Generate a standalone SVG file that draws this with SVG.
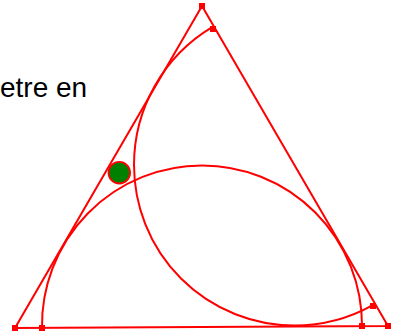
<svg xmlns="http://www.w3.org/2000/svg" width="397" height="335" viewBox="0 0 397 335">
<style>
.ln{fill:none;stroke:#ff0000;stroke-width:2}
.pt{fill:#ff0000}
.lbl{font-family:"Liberation Sans",Arial,sans-serif;font-size:28px;fill:#000}
</style>
<rect width="397" height="335" fill="#fff"/>
<text class="lbl" x="0" y="97">etre en</text>
<g id="triangle">
<path class="ln" d="M202,6 L15,328 L388,326 Z"/>
</g>
<g id="arcs">
<path class="ln" d="M212.2,27.2 A160.5,160.5 0 0 0 134,165 A160.5,160.5 0 0 0 294.5,325.5 A160.5,160.5 0 0 0 372.8,305.1"/>
<path class="ln" d="M42,328 A160,160 0 0 1 202,165.5 A160,160 0 0 1 362,326"/>
</g>
<g id="points">
<rect class="pt" x="199" y="3" width="6" height="6"/>
<rect class="pt" x="210" y="26" width="6" height="6"/>
<rect class="pt" x="12" y="325" width="6" height="6"/>
<rect class="pt" x="39" y="325" width="6" height="6"/>
<rect class="pt" x="359" y="323" width="6" height="6"/>
<rect class="pt" x="385" y="323" width="6" height="6"/>
<rect class="pt" x="370" y="303" width="6" height="6"/>
</g>
<g id="dot">
<circle cx="119.3" cy="172.7" r="10.8" fill="#008000" stroke="#ff0000" stroke-width="1.8"/>
</g>
</svg>
